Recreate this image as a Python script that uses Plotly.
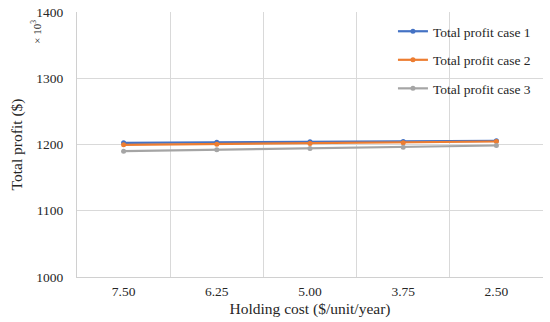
import plotly.graph_objects as go

holding_cost = ["7.50", "6.25", "5.00", "3.75", "2.50"]
case1 = [1202.5, 1203.5, 1204, 1204.5, 1205.5]
case2 = [1199.5, 1200.5, 1201.5, 1202.5, 1204.5]
case3 = [1190, 1192, 1194, 1196, 1198.5]
names = ["Total profit case 1", "Total profit case 2", "Total profit case 3"]
colors = ["#4472C4", "#ED7D31", "#A5A5A5"]

xs = list(range(len(holding_cost)))
fig = go.Figure()
for i, (vals, nm, c) in enumerate(zip([case1, case2, case3], names, colors)):
    fig.add_trace(go.Scatter(x=xs, y=vals, name=nm, mode="lines+markers",
                             line=dict(color=c, width=2.2),
                             marker=dict(color=c, size=5),
                             legendgroup=str(i)))

font = "Liberation Serif, Times New Roman, serif"
fig.update_layout(
    width=550, height=322,
    margin=dict(l=77, r=7, t=12, b=45),
    paper_bgcolor="white", plot_bgcolor="white",
    font=dict(family=font, color="#404040"),
    showlegend=True,
    legend=dict(x=0.678, y=0.985, xanchor="left", yanchor="top",
                font=dict(size=13.5, color="#262626", family=font),
                tracegroupgap=8, itemwidth=30, bgcolor="rgba(0,0,0,0)"),
    xaxis=dict(range=[-0.5, 4.5], tickmode="array", tickvals=xs, ticktext=holding_cost,
               showgrid=False, zeroline=False, showline=True, linecolor="#d0d0d0",
               ticks="", tickfont=dict(size=13.5, color="#262626"), automargin=False,
               ticklabelstandoff=2,
               title=dict(text="Holding cost ($/unit/year)", font=dict(size=15.5, color="#262626"), standoff=4),
               minor=dict(tickmode="array", tickvals=[x + 0.5 for x in xs], showgrid=True,
                          gridcolor="#d9d9d9", gridwidth=1, ticks="")),
    yaxis=dict(range=[1000, 1400], tickvals=[1000, 1100, 1200, 1300, 1400],
               showgrid=True, gridcolor="#d9d9d9", zeroline=False, showline=True, linecolor="#d0d0d0",
               ticks="", tickfont=dict(size=13.5, color="#262626"), automargin=False,
               ticklabelstandoff=10, ticklabeloverflow="allow",
               title=dict(text="Total profit ($)", font=dict(size=15.5, color="#262626"), standoff=9)),
)
fig.add_annotation(text="× 10<sup>3</sup>", xref="paper", yref="paper", x=-0.088, y=0.978,
                   xanchor="center", yanchor="top", textangle=-90, showarrow=False,
                   font=dict(size=11, family=font, color="#262626"))
fig.write_html("out.html", config={"displayModeBar": False},
               post_script="document.body.style.margin='0';")
